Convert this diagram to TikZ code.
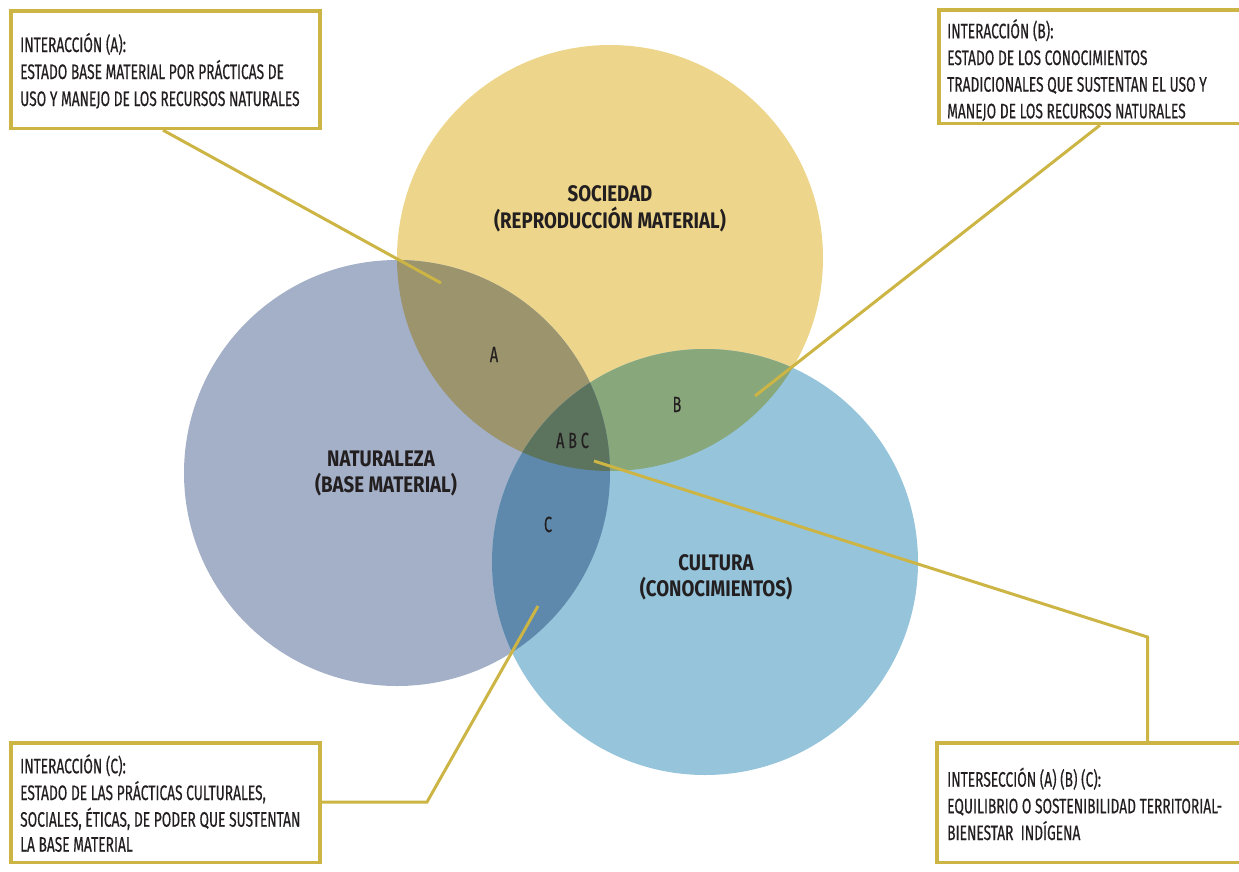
\documentclass[tikz,border=0pt]{standalone}
\usepackage{fontspec}
\setmainfont{Fira Sans}
\newfontfamily\condf[FakeStretch=0.655,FakeBold=0.4]{Fira Sans}
\newfontfamily\condb[FakeStretch=0.83]{Fira Sans}
\definecolor{socc}{HTML}{EDD68B}
\definecolor{natc}{HTML}{A4B0C7}
\definecolor{culc}{HTML}{95C4DB}
\definecolor{abc1}{HTML}{9B946D}
\definecolor{bcc}{HTML}{88A77A}
\definecolor{acc}{HTML}{5E89AC}
\definecolor{abcc}{HTML}{5C735D}
\definecolor{linec}{HTML}{CDB545}
\definecolor{txtc}{HTML}{231F20}
\tikzset{
  infobox/.style={draw=linec, line width=3.3pt, fill=white, inner sep=0pt},
  boxtext/.style={anchor=base west, inner sep=0pt, text=txtc, font=\condf\fontsize{21}{26}\selectfont},
  titletext/.style={anchor=base, inner sep=0pt, text=txtc, font=\condb\bfseries\fontsize{22.5}{26}\selectfont},
  regiontext/.style={anchor=base, inner sep=0pt, text=txtc, font=\condf\fontsize{22}{24}\selectfont},
  leader/.style={draw=linec, line width=3pt}
}
\begin{document}
\begin{tikzpicture}[x=1pt,y=-1pt]
\useasboundingbox (0,0) rectangle (1239,871);
\clip (0,0) rectangle (1239,871);
% circles
\fill[socc] (610,258) circle (213pt);
\fill[natc] (397,473) circle (213pt);
\fill[culc] (705,562) circle (213pt);
\begin{scope}
  \clip (610,258) circle (213pt);
  \fill[abc1] (397,473) circle (213pt);
\end{scope}
\begin{scope}
  \clip (610,258) circle (213pt);
  \fill[bcc] (705,562) circle (213pt);
\end{scope}
\begin{scope}
  \clip (397,473) circle (213pt);
  \fill[acc] (705,562) circle (213pt);
\end{scope}
\begin{scope}
  \clip (610,258) circle (213pt);
  \clip (397,473) circle (213pt);
  \fill[abcc] (705,562) circle (213pt);
\end{scope}
% titles
\node[titletext] (soc1) at (610,201) {SOCIEDAD};
\node[titletext] (soc2) at (610,228) {(REPRODUCCIÓN MATERIAL)};
\node[titletext] (nat1) at (381,466) {NATURALEZA};
\node[titletext] (nat2) at (386,492) {(BASE MATERIAL)};
\node[titletext] (cul1) at (716,570) {CULTURA};
\node[titletext] (cul2) at (716,596) {(CONOCIMIENTOS)};
% region labels
\node[regiontext] (la) at (494,362) {A};
\node[regiontext] (lb) at (677,412) {B};
\node[regiontext] (lc) at (548,532) {C};
\node[regiontext] (labc) at (572.5,448) {A B C};
% leader end points
\coordinate (pa) at (441,283);
\coordinate (pb) at (755,396);
\coordinate (pc) at (538,606);
\coordinate (pabc) at (594,461);
\coordinate (kc) at (427,802);
\coordinate (kabc) at (1147.5,637);
% boxes
\node[infobox, minimum width=309pt, minimum height=117.5pt] (boxa) at (165.5,69.75) {};
\node[infobox, minimum width=306pt, minimum height=113.5pt] (boxb) at (1092,66.75) {};
\node[infobox, minimum width=309pt, minimum height=119.5pt] (boxc) at (165.5,802.75) {};
\node[infobox, minimum width=308pt, minimum height=119.5pt] (boxabc) at (1091,802.75) {};
% leaders
\draw[leader] (boxa.south -| 163,0) -- (pa);
\draw[leader] (boxb.south -| 1100,0) -- (pb);
\draw[leader] (boxc.east |- 0,802) -- (kc) -- (pc);
\draw[leader] (boxabc.north -| kabc) -- (kabc) -- (pabc);
% box texts
\node[boxtext] (ta1) at (20,52) {INTERACCIÓN (A):};
\node[boxtext] (ta2) at (20,79) {ESTADO BASE MATERIAL POR PRÁCTICAS DE};
\node[boxtext] (ta3) at (20,106) {USO Y MANEJO DE LOS RECURSOS NATURALES};
\node[boxtext] (tb1) at (947,38.3) {INTERACCIÓN (B):};
\node[boxtext] (tb2) at (947,65) {ESTADO DE LOS CONOCIMIENTOS};
\node[boxtext] (tb3) at (947,91.7) {TRADICIONALES QUE SUSTENTAN EL USO Y};
\node[boxtext] (tb4) at (947,118.3) {MANEJO DE LOS RECURSOS NATURALES};
\node[boxtext] (tc1) at (20,773.3) {INTERACCIÓN (C):};
\node[boxtext] (tc2) at (20,800) {ESTADO DE LAS PRÁCTICAS CULTURALES,};
\node[boxtext] (tc3) at (20,826.7) {SOCIALES, ÉTICAS, DE PODER QUE SUSTENTAN};
\node[boxtext] (tc4) at (20,851.7) {LA BASE MATERIAL};
\node[boxtext] (td1) at (947,786.7) {INTERSECCIÓN (A) (B) (C):};
\node[boxtext] (td2) at (947,813.3) {EQUILIBRIO O SOSTENIBILIDAD TERRITORIAL-};
\node[boxtext] (td3) at (947,840) {BIENESTAR\ \ INDÍGENA};
\end{tikzpicture}
\end{document}
